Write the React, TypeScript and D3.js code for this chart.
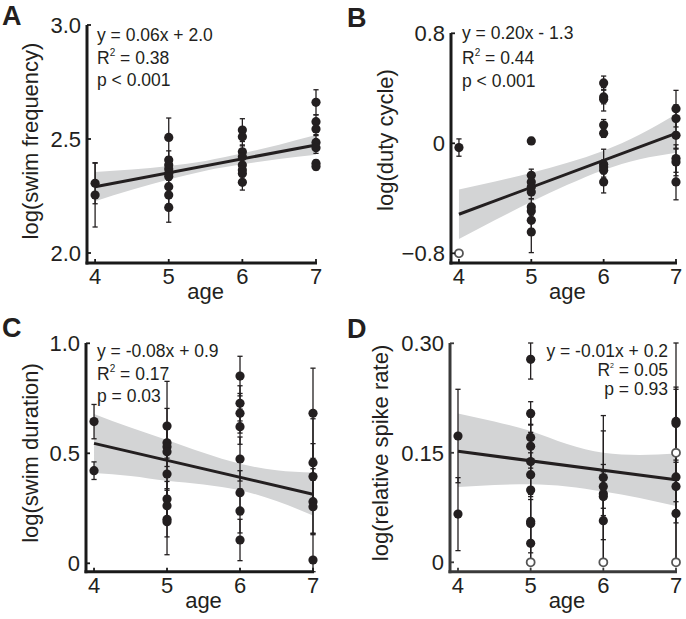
import React from 'react';
import * as d3 from 'd3';

// ---------- shared ----------
const AGE_TICKS = [4, 5, 6, 7];
const AGE_TICK_LABELS = ['4', '5', '6', '7'];
const BAND_X = [4, 4.5, 5, 5.5, 6, 6.5, 7];

// ---------- A: log(swim frequency) ----------
const freqAge = [4, 4, 5, 5, 5, 5, 5, 5, 5, 5, 5, 6, 6, 6, 6, 6, 6, 6, 6, 7, 7, 7, 7, 7, 7, 7];
const freqValue = [2.306, 2.254, 2.507, 2.408, 2.386, 2.368, 2.349, 2.335, 2.291, 2.254, 2.2, 2.539, 2.51, 2.444, 2.422, 2.386, 2.364, 2.349, 2.31, 2.661, 2.576, 2.544, 2.485, 2.462, 2.393, 2.379];
const freqErr = [0.09, 0.14, 0.085, 0.04, 0.035, 0.04, 0.03, 0.04, 0.04, 0.04, 0.065, 0.05, 0.04, 0.03, 0.035, 0.03, 0.03, 0.035, 0.034, 0.055, 0.03, 0.025, 0.03, 0.025, 0.015, 0.015];
const freqFit = [0.061, 2.047];
const freqBandLo = [2.227, 2.277, 2.322, 2.361, 2.389, 2.412, 2.431];
const freqBandHi = [2.355, 2.366, 2.382, 2.404, 2.437, 2.475, 2.517];
const freqTicks = [2.0, 2.5, 3.0];
const freqTickLabels = ['2.0', '2.5', '3.0'];
const freqStats = ['y = 0.06x + 2.0', '0.38', 'p < 0.001'];

// ---------- B: log(duty cycle) ----------
const dutyAge = [4, 5, 5, 5, 5, 5, 5, 5, 5, 5, 6, 6, 6, 6, 6, 6, 6, 6, 6, 7, 7, 7, 7, 7, 7];
const dutyValue = [-0.031, 0.017, -0.233, -0.281, -0.318, -0.354, -0.463, -0.492, -0.56, -0.645, 0.439, 0.337, 0.32, 0.133, 0.073, -0.153, -0.172, -0.196, -0.281, 0.252, 0.18, 0.058, -0.111, -0.136, -0.281];
const dutyErr = [0.063, 0.025, 0.045, 0.05, 0.05, 0.05, 0.06, 0.05, 0.06, 0.15, 0.05, 0.05, 0.085, 0.04, 0.03, 0.11, 0.05, 0.05, 0.08, 0.133, 0.1, 0.1, 0.1, 0.1, 0.13];
const dutyOpenAge = [4];
const dutyOpenValue = [-0.8];
const dutyFit = [0.196, -1.3];
const dutyBandLo = [-0.696, -0.558, -0.425, -0.302, -0.194, -0.116, -0.068];
const dutyBandHi = [-0.336, -0.278, -0.215, -0.142, -0.054, 0.064, 0.212];
const dutyTicks = [-0.8, 0, 0.8];
const dutyTickLabels = ['\u22120.8', '0', '0.8'];
const dutyStats = ['y = 0.20x - 1.3', '0.44', 'p < 0.001'];

// ---------- C: log(swim duration) ----------
const durAge = [4, 4, 5, 5, 5, 5, 5, 5, 5, 5, 5, 6, 6, 6, 6, 6, 6, 6, 6, 7, 7, 7, 7, 7, 7];
const durValue = [0.644, 0.421, 0.624, 0.548, 0.53, 0.507, 0.406, 0.292, 0.262, 0.2, 0.189, 0.851, 0.727, 0.682, 0.621, 0.474, 0.321, 0.238, 0.106, 0.682, 0.457, 0.394, 0.28, 0.257, 0.015];
const durErr = [0.078, 0.04, 0.08, 0.07, 0.09, 0.32, 0.1, 0.08, 0.07, 0.08, 0.15, 0.09, 0.08, 0.09, 0.08, 0.1, 0.1, 0.1, 0.094, 0.205, 0.2, 0.15, 0.15, 0.12, 0.12];
const durFit = [-0.077, 0.853];
const durBandLo = [0.411, 0.397, 0.375, 0.358, 0.332, 0.283, 0.217];
const durBandHi = [0.679, 0.617, 0.561, 0.502, 0.452, 0.423, 0.413];
const durTicks = [0, 0.5, 1.0];
const durTickLabels = ['0', '0.5', '1.0'];
const durStats = ['y = -0.08x + 0.9', '0.17', 'p = 0.03'];

// ---------- D: log(relative spike rate) ----------
const spikeAge = [4, 4, 5, 5, 5, 5, 5, 5, 5, 5, 5, 5, 6, 6, 6, 6, 6, 7, 7, 7, 7, 7];
const spikeValue = [0.173, 0.066, 0.278, 0.204, 0.171, 0.159, 0.138, 0.12, 0.099, 0.056, 0.053, 0.026, 0.116, 0.104, 0.094, 0.09, 0.057, 0.193, 0.19, 0.117, 0.104, 0.067];
const spikeErr = [0.064, 0.05, 0.027, 0.016, 0.03, 0.03, 0.04, 0.03, 0.1, 0.03, 0.04, 0.03, 0.085, 0.03, 0.03, 0.09, 0.06, 0.11, 0.05, 0.12, 0.05, 0.07];
const spikeOpenAge = [5, 6, 7, 7];
const spikeOpenValue = [0, 0, 0, 0.15];
const spikeFit = [-0.013, 0.204];
const spikeBandLo = [0.103, 0.106, 0.107, 0.104, 0.097, 0.088, 0.077];
const spikeBandHi = [0.204, 0.193, 0.18, 0.162, 0.15, 0.147, 0.149];
const spikeTicks = [0, 0.15, 0.3];
const spikeTickLabels = ['0', '0.15', '0.30'];
const spikeStats = ['y = -0.01x + 0.2', '0.05', 'p = 0.93'];

const FONT = '"Liberation Sans", Arial, Helvetica, sans-serif';
const INK = '#231f20';

type PanelCfg = {
  letter: string;
  letterX: number;
  letterY: number;
  left: number;
  right: number;
  top: number;
  axisY: number;
  yDomain: [number, number];
  yRange: [number, number];
  ticks: number[];
  tickLabels: string[];
  ylabel: string;
  ylabelX: number;
  ylabelY: number;
  age: number[];
  value: number[];
  err: number[];
  openAge: number[];
  openValue: number[];
  fit: number[];
  bandLo: number[];
  bandHi: number[];
  stats: string[];
  statX: number;
  statAnchor: 'start' | 'end';
  statBase: number[];
  axisColor: string;
  supSize: number;
};

const panels: PanelCfg[] = [
  {
    letter: 'A', letterX: 2, letterY: 25,
    left: 87, right: 316, top: 25, axisY: 263,
    yDomain: [2.0, 3.0], yRange: [253, 25],
    ticks: freqTicks, tickLabels: freqTickLabels,
    ylabel: 'log(swim frequency)', ylabelX: 38, ylabelY: 141,
    age: freqAge, value: freqValue, err: freqErr, openAge: [], openValue: [],
    fit: freqFit, bandLo: freqBandLo, bandHi: freqBandHi,
    stats: freqStats, statX: 97, statAnchor: 'start', statBase: [41, 64, 86],
    axisColor: '#1a1a1a', supSize: 10,
  },
  {
    letter: 'B', letterX: 347, letterY: 27,
    left: 451, right: 676, top: 33, axisY: 263,
    yDomain: [-0.8, 0.8], yRange: [253.3, 33.3],
    ticks: dutyTicks, tickLabels: dutyTickLabels,
    ylabel: 'log(duty cycle)', ylabelX: 393, ylabelY: 140,
    age: dutyAge, value: dutyValue, err: dutyErr, openAge: dutyOpenAge, openValue: dutyOpenValue,
    fit: dutyFit, bandLo: dutyBandLo, bandHi: dutyBandHi,
    stats: dutyStats, statX: 462, statAnchor: 'start', statBase: [39, 64, 87],
    axisColor: '#1a1a1a', supSize: 10,
  },
  {
    letter: 'C', letterX: 2, letterY: 337,
    left: 86, right: 313, top: 343, axisY: 571.7,
    yDomain: [0, 1.0], yRange: [563.3, 343.3],
    ticks: durTicks, tickLabels: durTickLabels,
    ylabel: 'log(swim duration)', ylabelX: 38, ylabelY: 453,
    age: durAge, value: durValue, err: durErr, openAge: [], openValue: [],
    fit: durFit, bandLo: durBandLo, bandHi: durBandHi,
    stats: durStats, statX: 97, statAnchor: 'start', statBase: [357, 380, 402],
    axisColor: '#1a1a1a', supSize: 10,
  },
  {
    letter: 'D', letterX: 347, letterY: 338,
    left: 450, right: 676, top: 343, axisY: 571.7,
    yDomain: [0, 0.3], yRange: [562.3, 343.3],
    ticks: spikeTicks, tickLabels: spikeTickLabels,
    ylabel: 'log(relative spike rate)', ylabelX: 388, ylabelY: 453,
    age: spikeAge, value: spikeValue, err: spikeErr, openAge: spikeOpenAge, openValue: spikeOpenValue,
    fit: spikeFit, bandLo: spikeBandLo, bandHi: spikeBandHi,
    stats: spikeStats, statX: 668, statAnchor: 'end', statBase: [357, 376, 395],
    axisColor: '#3a3a3a', supSize: 7,
  },
];

function Panel({ cfg }: { cfg: PanelCfg }) {
  const x = d3.scaleLinear().domain([3.89, 7]).range([cfg.left, cfg.right]);
  const y = d3.scaleLinear().domain(cfg.yDomain).range(cfg.yRange);
  const yLow = y.invert(cfg.axisY);
  const yHigh = y.invert(cfg.top);
  const clamp = (v: number) => Math.max(yLow, Math.min(yHigh, v));

  const bandData = BAND_X.map((bx, i) => ({ x: bx, lo: cfg.bandLo[i], hi: cfg.bandHi[i] }));
  const area = d3
    .area<{ x: number; lo: number; hi: number }>()
    .x((d) => x(d.x))
    .y0((d) => y(d.lo))
    .y1((d) => y(d.hi))
    .curve(d3.curveMonotoneX);
  const fitLine = d3
    .line<number>()
    .x((d) => x(d))
    .y((d) => y(cfg.fit[0] * d + cfg.fit[1]));

  const cap = 2.6;
  const r = 4.6;

  return (
    <g>
      <text x={cfg.letterX} y={cfg.letterY} fontSize={27} fontWeight="bold" fill={INK} fontFamily={FONT}>
        {cfg.letter}
      </text>
      {/* confidence band */}
      <path d={area(bandData) || ''} fill="#d3d4d5" stroke="none" />
      {/* error bars */}
      {cfg.age.map((a, i) => {
        const lo = y(clamp(cfg.value[i] - cfg.err[i]));
        const hi = y(clamp(cfg.value[i] + cfg.err[i]));
        const cx = x(a);
        return (
          <g key={'e' + i} stroke={INK} strokeWidth={1.3}>
            <line x1={cx} x2={cx} y1={lo} y2={hi} />
            <line x1={cx - cap} x2={cx + cap} y1={lo} y2={lo} />
            <line x1={cx - cap} x2={cx + cap} y1={hi} y2={hi} />
          </g>
        );
      })}
      {/* regression line */}
      <path d={fitLine([4, 7]) || ''} fill="none" stroke={INK} strokeWidth={3} />
      {/* points */}
      {cfg.age.map((a, i) => (
        <circle key={'p' + i} cx={x(a)} cy={y(cfg.value[i])} r={r} fill={INK} />
      ))}
      {cfg.openAge.map((a, i) => (
        <circle key={'o' + i} cx={x(a)} cy={y(cfg.openValue[i])} r={r - 0.6} fill="#fff" stroke="#555" strokeWidth={1.8} />
      ))}
      {/* axes */}
      <line x1={cfg.left} x2={cfg.left} y1={cfg.top} y2={cfg.axisY + 1.5} stroke={cfg.axisColor} strokeWidth={3} />
      <line x1={cfg.left - 1.5} x2={cfg.right + 1} y1={cfg.axisY} y2={cfg.axisY} stroke={cfg.axisColor} strokeWidth={3} />
      {cfg.ticks.map((t, i) => (
        <g key={'yt' + i}>
          <line x1={cfg.left} x2={cfg.left + 4} y1={y(t)} y2={y(t)} stroke={cfg.axisColor} strokeWidth={1.8} />
          <text
            x={cfg.left - 6}
            y={y(t)}
            dy="0.36em"
            textAnchor="end"
            fontSize={22}
            fill={INK}
            fontFamily={FONT}
          >
            {cfg.tickLabels[i]}
          </text>
        </g>
      ))}
      {AGE_TICKS.map((t, i) => (
        <g key={'xt' + i}>
          <line x1={x(t)} x2={x(t)} y1={cfg.axisY} y2={cfg.axisY - 4} stroke={cfg.axisColor} strokeWidth={1.8} />
          <text x={x(t)} y={cfg.axisY + 21} textAnchor="middle" fontSize={22} fill={INK} fontFamily={FONT}>
            {AGE_TICK_LABELS[i]}
          </text>
        </g>
      ))}
      <text
        x={(x(5) + x(6)) / 2}
        y={cfg.axisY + 36}
        textAnchor="middle"
        fontSize={22}
        fill={INK}
        fontFamily={FONT}
      >
        age
      </text>
      <text
        transform={`translate(${cfg.ylabelX},${cfg.ylabelY}) rotate(-90)`}
        textAnchor="middle"
        fontSize={22}
        fill={INK}
        fontFamily={FONT}
      >
        {cfg.ylabel}
      </text>
      {/* stats */}
      <g fontFamily={FONT} fontSize={17.5} fill={INK} textAnchor={cfg.statAnchor}>
        <text x={cfg.statX} y={cfg.statBase[0]}>{cfg.stats[0]}</text>
        <text x={cfg.statX} y={cfg.statBase[1]}>
          R
          <tspan fontSize={cfg.supSize} dy={-8}>2</tspan>
          <tspan dy={8}>{' = ' + cfg.stats[1]}</tspan>
        </text>
        <text x={cfg.statX} y={cfg.statBase[2]}>{cfg.stats[2]}</text>
      </g>
    </g>
  );
}

export default function App() {
  return (
    <svg
      width={686}
      height={619}
      viewBox="0 0 686 619"
      style={{ position: 'absolute', left: 0, top: 0, background: '#fff' }}
    >
      <rect x={0} y={0} width={686} height={619} fill="#fff" />
      {panels.map((p) => (
        <Panel key={p.letter} cfg={p} />
      ))}
    </svg>
  );
}
